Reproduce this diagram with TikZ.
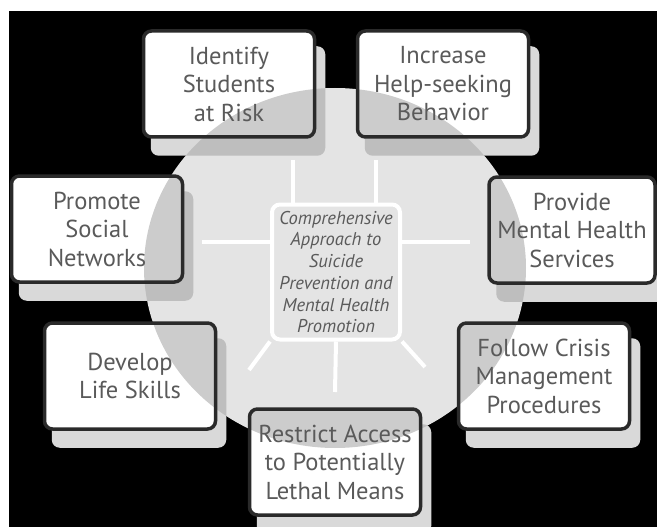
\documentclass[tikz,border=0pt]{standalone}
\usepackage{fontspec}
\setmainfont{PT Sans}
\usetikzlibrary{backgrounds}
\definecolor{ringgray}{HTML}{E4E4E4}
\definecolor{shadegray}{HTML}{D9D9D9}
\definecolor{edgegray}{HTML}{2A2A2A}
\definecolor{inkgray}{HTML}{5A5A5A}
\tikzset{
  ringshade/.style={path picture={\fill[black,opacity=#1] (ring) ellipse [x radius=191pt, y radius=180pt];}},
  goal/.style={draw=edgegray, line width=3.5pt, fill=white, rounded corners=8pt,
    minimum width=171pt, minimum height=106pt, inner sep=0pt, align=center,
    text=inkgray, font=\fontsize{24.5}{28.5}\selectfont, ringshade=.2},
  hub/.style={draw=white, line width=4pt, fill=ringgray, rounded corners=8pt,
    minimum width=128pt, minimum height=135pt, inner sep=0pt, align=center,
    text=inkgray, font=\itshape\fontsize{18.5}{21.7}\selectfont},
  spoke/.style={white, line width=4pt},
}
\begin{document}
\begin{tikzpicture}[x=1pt,y=-1pt]
    \useasboundingbox (0,0) rectangle (657,527);
    \clip (0,0) rectangle (657,527);
    \coordinate (ring) at (335,268);
    \node[hub] (hub) at (336,272) {Comprehensive\\Approach to\\Suicide\\Prevention and\\Mental Health\\Promotion};
    \node[goal] (risk) at (229,84) {Identify\\Students\\at Risk};
    \node[goal] (help) at (443,84) {Increase\\Help-seeking\\Behavior};
    \node[goal] (social) at (97,229) {Promote\\Social\\Networks};
    \node[goal, minimum width=166pt] (mental) at (572,230) {Provide\\Mental Health\\Services};
    \node[goal] (skills) at (130,376) {Develop\\Life Skills};
    \node[goal] (crisis) at (544,376) {Follow Crisis\\Management\\Procedures};
    \node[goal] (lethal) at (335,462) {Restrict Access\\to Potentially\\Lethal Means};
    \coordinate (s1) at (293,160);
    \coordinate (s2) at (376,160);
    \coordinate (s3) at (202,242);
    \coordinate (s4) at (470,242);
    \coordinate (s5) at (249,370);
    \coordinate (s6) at (335,392);
    \coordinate (s7) at (425,367);
    \draw[spoke] (hub.north -| s1) -- (s1);
    \draw[spoke] (hub.north -| s2) -- (s2);
    \draw[spoke] (hub.west |- s3) -- (s3);
    \draw[spoke] (hub.east |- s4) -- (s4);
    \draw[spoke] (hub.south west) -- (s5);
    \draw[spoke] (hub.south) -- (s6);
    \draw[spoke] (hub.south east) -- (s7);
    \begin{scope}[on background layer]
        \fill[white] (0,0) rectangle (657,527);
        \fill[black] (9,11) rectangle (657,527);
        \fill[ringgray] (ring) ellipse [x radius=191pt, y radius=180pt];
        \foreach \n in {risk,help,social,mental,skills,crisis,lethal}
            \fill[shadegray, rounded corners=8pt, ringshade=.12] ([shift={(9,17)}]\n.south west) rectangle ([shift={(9,17)}]\n.north east);
    \end{scope}
\end{tikzpicture}
\end{document}
